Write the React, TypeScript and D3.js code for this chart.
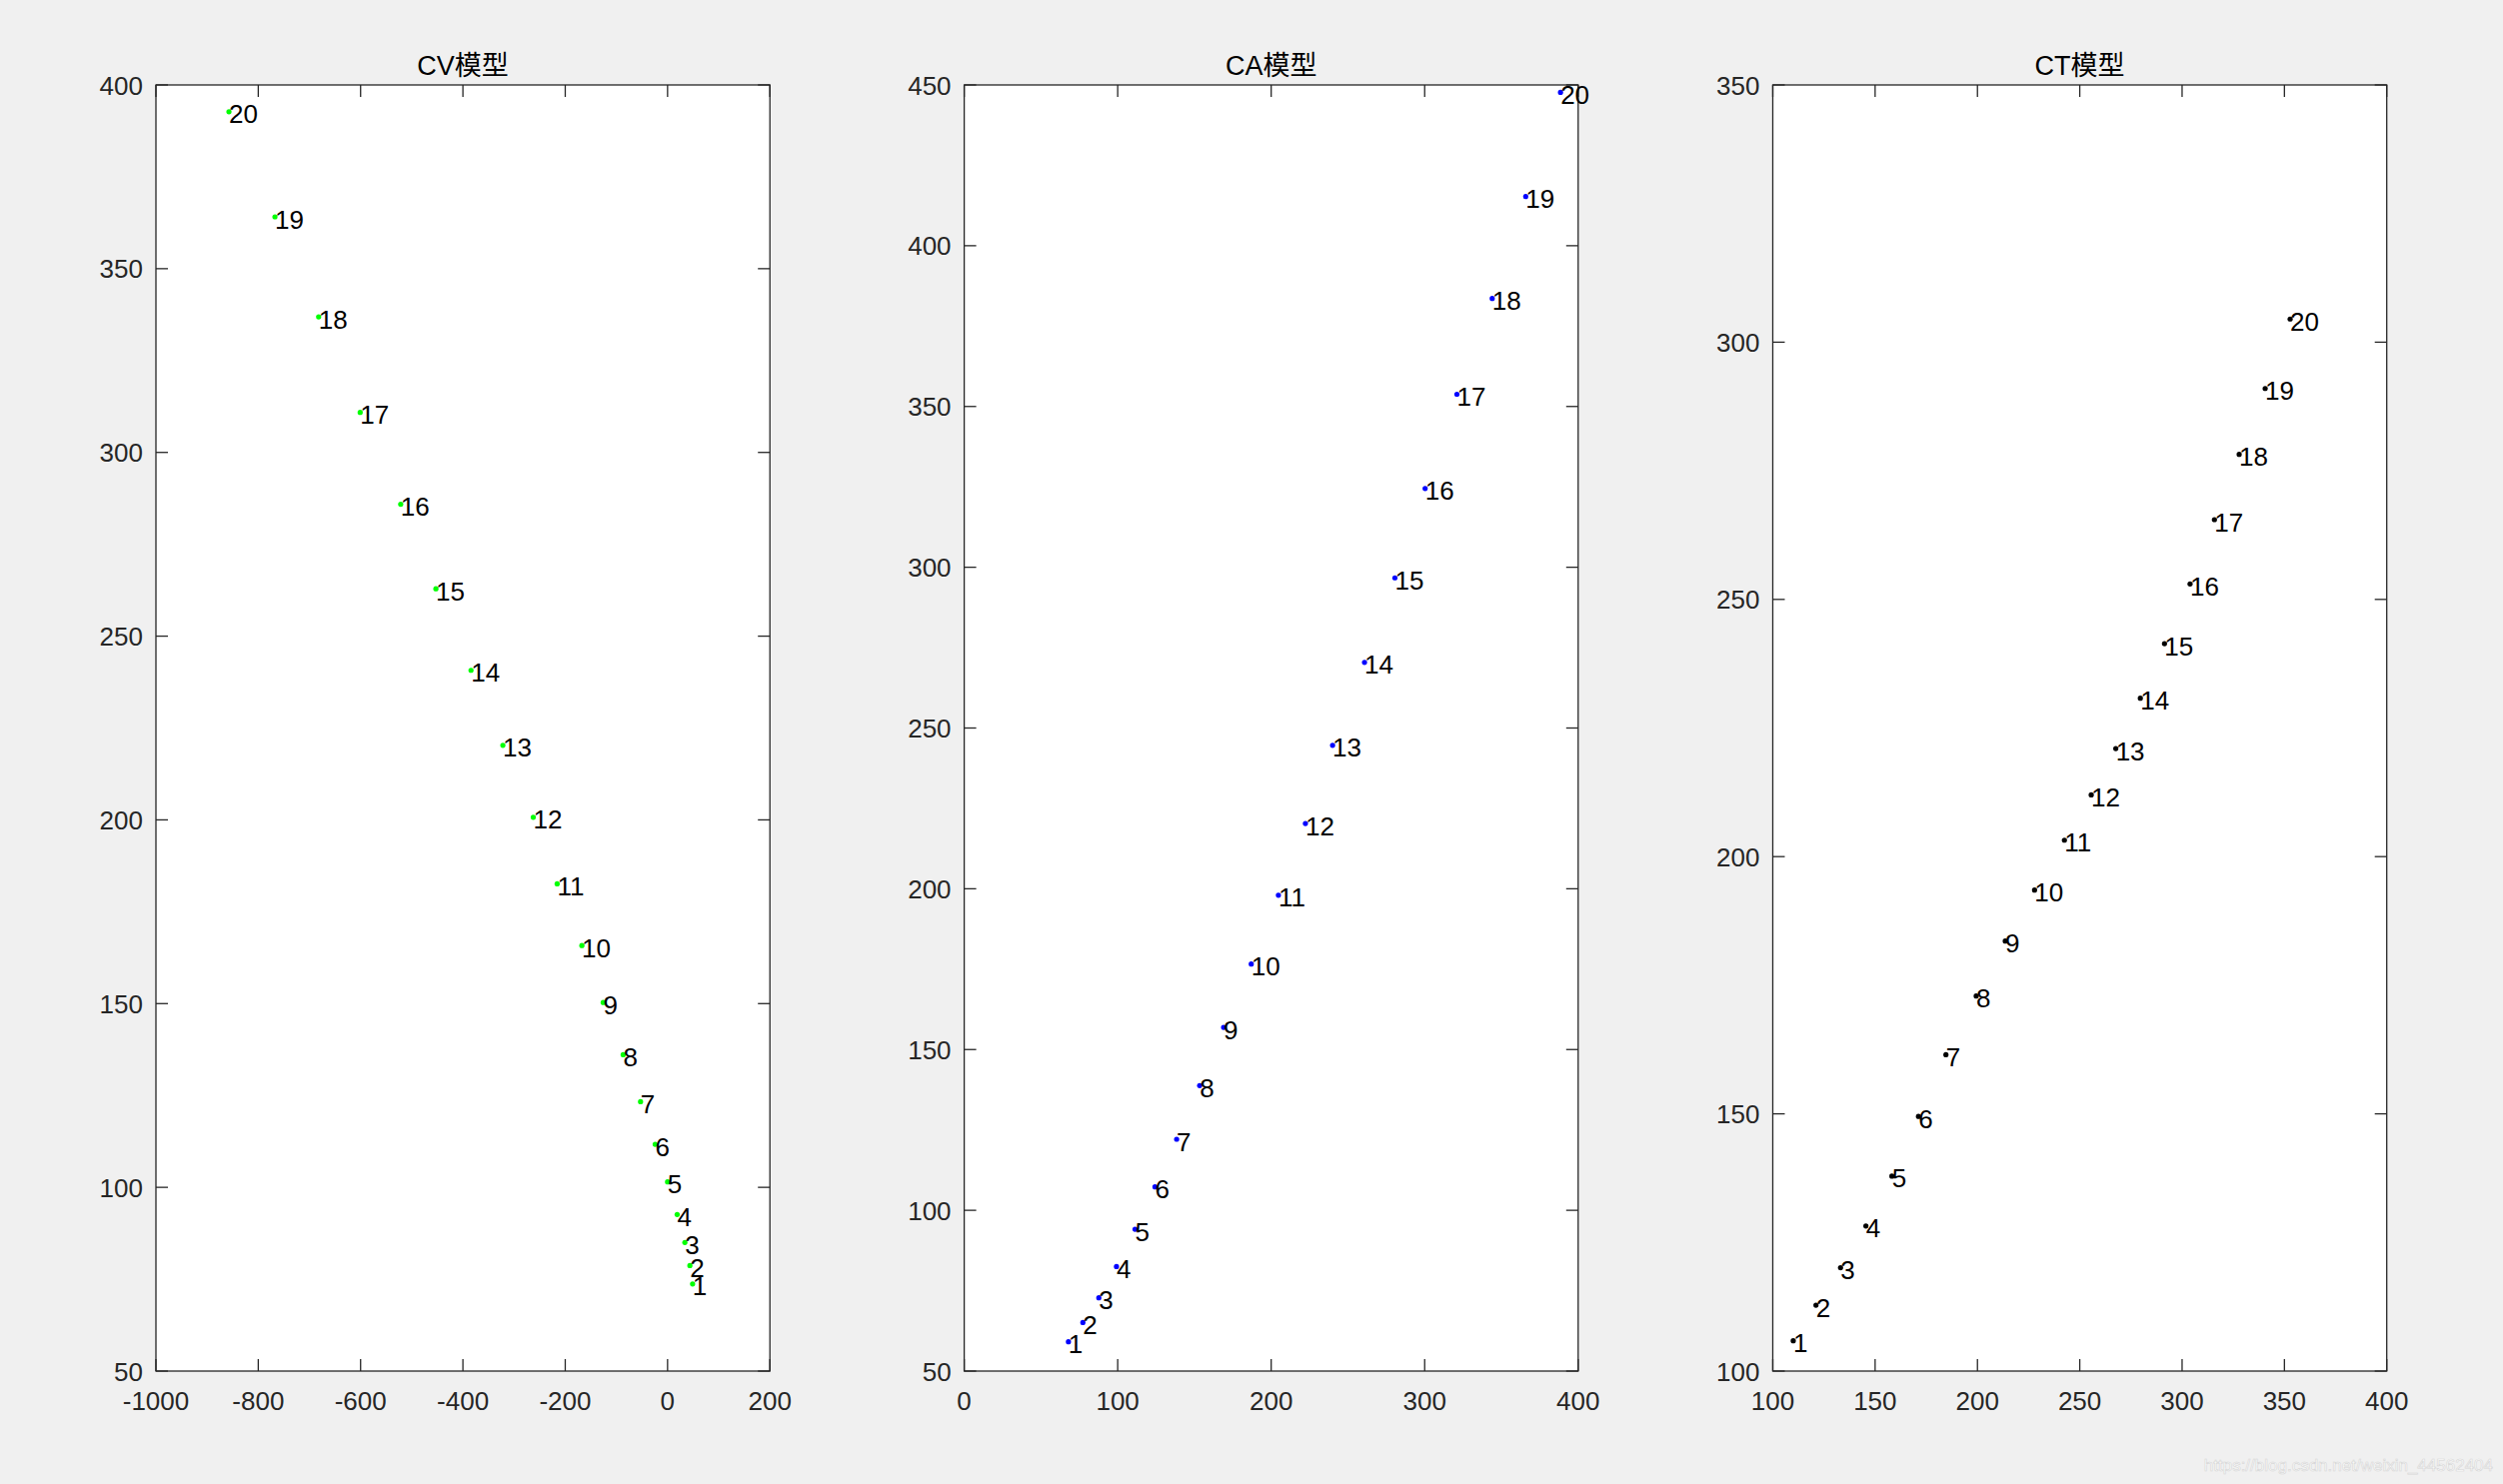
import React from "react";
import * as d3 from "d3";

const titles = ["CV模型", "CA模型", "CT模型"];
const pointLabels = d3.range(1, 21).map(String);

const cvX = [48.9, 43.6, 33.8, 18.8, 0, -24.2, -52.8, -86.8, -125.8, -167.5, -215.8, -262.5, -321.9, -384.2, -452.8, -521.6, -600.8, -682, -767.4, -857.3];
const cvY = [73.7, 78.7, 85, 92.6, 101.5, 111.7, 123.3, 136.1, 150.3, 165.8, 182.6, 200.7, 220.3, 240.7, 262.9, 285.9, 310.9, 336.9, 364.1, 392.7];

const caX = [67.9, 77.3, 87.7, 99.2, 111.3, 124.3, 138.4, 153.4, 169, 187, 204.7, 222.3, 240, 260.8, 280.6, 300.3, 321, 344, 365.8, 388.5];
const caY = [59.1, 65.1, 72.8, 82.5, 94.1, 107.3, 122.1, 138.8, 156.9, 176.6, 198, 220.3, 244.6, 270.4, 296.7, 324.5, 353.8, 383.6, 415.3, 447.7];

const ctX = [110, 121.1, 133.1, 145.5, 158.2, 171.2, 184.6, 199.4, 213.6, 227.9, 242.5, 255.6, 267.6, 279.6, 291.4, 303.9, 315.8, 327.9, 340.6, 352.8];
const ctY = [105.9, 112.8, 120.1, 128.2, 137.9, 149.5, 161.5, 172.9, 183.6, 193.5, 203.2, 212, 221, 230.8, 241.4, 253, 265.5, 278.2, 291, 304.5];

const cvXTicks = [-1000, -800, -600, -400, -200, 0, 200];
const cvYTicks = [50, 100, 150, 200, 250, 300, 350, 400];
const caXTicks = [0, 100, 200, 300, 400];
const caYTicks = [50, 100, 150, 200, 250, 300, 350, 400, 450];
const ctXTicks = [100, 150, 200, 250, 300, 350, 400];
const ctYTicks = [100, 150, 200, 250, 300, 350];

const panels = [
  { title: titles[0], xs: cvX, ys: cvY, xd: [-1000, 200], yd: [50, 400], xt: cvXTicks, yt: cvYTicks, color: "#00ff00" },
  { title: titles[1], xs: caX, ys: caY, xd: [0, 400], yd: [50, 450], xt: caXTicks, yt: caYTicks, color: "#0000ff" },
  { title: titles[2], xs: ctX, ys: ctY, xd: [100, 400], yd: [100, 350], xt: ctXTicks, yt: ctYTicks, color: "#000000" },
];

const W = 2504;
const H = 1485;
const lefts = [156, 964.6, 1773.5];
const pw = 614.2;
const top = 85;
const bottom = 1372;
const tickLen = 12;
const axisColor = "#262626";
const font = "'Liberation Sans', Arial, 'Noto Sans CJK SC', sans-serif";

function Panel({ p, left }: { p: any; left: number }) {
  const x = d3.scaleLinear().domain(p.xd).range([left, left + pw]);
  const y = d3.scaleLinear().domain(p.yd).range([bottom, top]);
  return (
    <g>
      <rect x={left} y={top} width={pw} height={bottom - top} fill="#ffffff" />
      {p.xt.map((t: number) => (
        <g key={"xt" + t}>
          <line x1={x(t)} x2={x(t)} y1={bottom} y2={bottom - tickLen} stroke={axisColor} strokeWidth={1.3} />
          <line x1={x(t)} x2={x(t)} y1={top} y2={top + tickLen} stroke={axisColor} strokeWidth={1.3} />
          <text x={x(t)} y={bottom + 39} textAnchor="middle" fontSize={26} fill={axisColor} fontFamily={font}>
            {String(t)}
          </text>
        </g>
      ))}
      {p.yt.map((t: number) => (
        <g key={"yt" + t}>
          <line x1={left} x2={left + tickLen} y1={y(t)} y2={y(t)} stroke={axisColor} strokeWidth={1.3} />
          <line x1={left + pw} x2={left + pw - tickLen} y1={y(t)} y2={y(t)} stroke={axisColor} strokeWidth={1.3} />
          <text x={left - 13} y={y(t) + 9.5} textAnchor="end" fontSize={26} fill={axisColor} fontFamily={font}>
            {String(t)}
          </text>
        </g>
      ))}
      <rect x={left} y={top} width={pw} height={bottom - top} fill="none" stroke={axisColor} strokeWidth={1.3} />
      {p.xs.map((v: number, i: number) => (
        <g key={"pt" + i}>
          <circle cx={x(v)} cy={y(p.ys[i])} r={2.6} fill={p.color} />
          <text x={x(v)} y={y(p.ys[i]) + 11.5} fontSize={26} fill="#000" fontFamily={font}>
            {pointLabels[i]}
          </text>
        </g>
      ))}
      <text x={left + pw / 2} y={75} textAnchor="middle" fontSize={27} fill="#000" fontFamily={font}>
        {p.title}
      </text>
    </g>
  );
}

export default function App() {
  return (
    <>
      <style>{"body{margin:0;background:#f0f0f0}"}</style>
      <svg width={W} height={H} style={{ display: "block" }}>
        <rect x={0} y={0} width={W} height={H} fill="#f0f0f0" />
        {panels.map((p, i) => (
          <Panel key={i} p={p} left={lefts[i]} />
        ))}
        <text x={2494} y={1472} textAnchor="end" fontSize={17} fill="#ffffff" stroke="#d4d4d4" strokeWidth={0.6} fontFamily={font}>
          https://blog.csdn.net/weixin_44562404
        </text>
      </svg>
    </>
  );
}
